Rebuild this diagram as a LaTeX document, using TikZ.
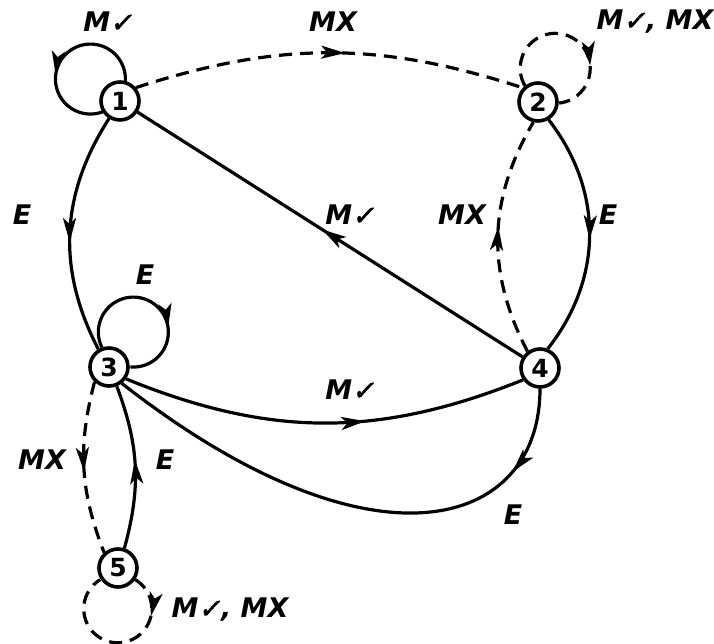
\documentclass[tikz,border=0pt]{standalone}
\usepackage{fontspec}
\setmainfont{DejaVu Sans}
\newfontfamily\labf{DejaVu Sans}
\newfontfamily\chkf[FakeBold=2.5,FakeSlant=0.2]{DejaVu Sans}
\newcommand{\chkm}{{\chkf ✓}}
\usetikzlibrary{arrows.meta,decorations.markings}
\begin{document}
\begin{tikzpicture}[x=1pt,y=1pt,
  st/.style={circle,draw,line width=3.6pt,minimum size=38pt,inner sep=0pt,font=\labf\bfseries\fontsize{25}{25}\selectfont},
  ed/.style={line width=3.2pt},
  dsh/.style={ed,dash pattern=on 13pt off 8pt},
  arrat/.style={postaction={decorate},decoration={markings,mark=at position #1 with {\arrow{Stealth[length=24pt,width=13pt,inset=6pt]}}}},
  lbl/.style={font=\labf\bfseries\itshape\fontsize{27}{29}\selectfont,inner sep=0pt}]
\useasboundingbox (0,0) rectangle (714,644);
% states
\node[st] (n1) at (120,543) {1};
\node[st] (n2) at (538,542) {2};
\node[st] (n3) at (109,277) {3};
\node[st] (n4) at (540,276) {4};
\node[st] (n5) at (118,76) {5};
% edges
\draw[ed,arrat=0.6] (n1.75) arc[start angle=-3, end angle=291, radius=35];
\draw[dsh,arrat=0.54] (n1.40) to[bend left=18] (n2.137);
\draw[dsh,arrat=0.7] (n2.129) arc[start angle=210, end angle=-83.5, radius=35];
\draw[ed,arrat=0.54] (n1.238) to[bend right=30] (n3.121);
\draw[ed,arrat=0.52] (n4) -- (n1);
\draw[ed,arrat=0.52] (n2.-59) to[bend left=38] (n4.68);
\draw[dsh,arrat=0.54] (n4.127) to[bend left=29] (n2.257);
\draw[ed,arrat=0.66] (n3.110) arc[start angle=206, end angle=-95, radius=35];
\draw[ed,arrat=0.6] (n3.-35) to[bend right=22] (n4.215);
\draw[ed,arrat=0.17] (n4.270) .. controls +(270:140) and +(-38:320) .. (n3.-52);
\draw[dsh,arrat=0.52] (n3.226) to[bend right=18] (n5.132);
\draw[ed,arrat=0.54] (n5.72) to[bend right=18] (n3.-68);
\draw[dsh,arrat=0.24] (n5.-34) arc[start angle=59, end angle=-239, radius=34];
% labels
\node[lbl] (l1) at (108,622) {M\chkm};
\node[lbl] (l2) at (333,622) {MX};
\node[lbl] (l3) at (655,622) {M\chkm, MX};
\node[lbl] (l4) at (22,429) {E};
\node[lbl] (l5) at (350,429) {M\chkm};
\node[lbl] (l6) at (462,429) {MX};
\node[lbl] (l7) at (608,429) {E};
\node[lbl] (l8) at (145,369) {E};
\node[lbl] (l9) at (350,254) {M\chkm};
\node[lbl] (l10) at (513,129) {E};
\node[lbl] (l11) at (42,184) {MX};
\node[lbl] (l12) at (165,184) {E};
\node[lbl] (l13) at (230,34) {M\chkm, MX};
\end{tikzpicture}
\end{document}
